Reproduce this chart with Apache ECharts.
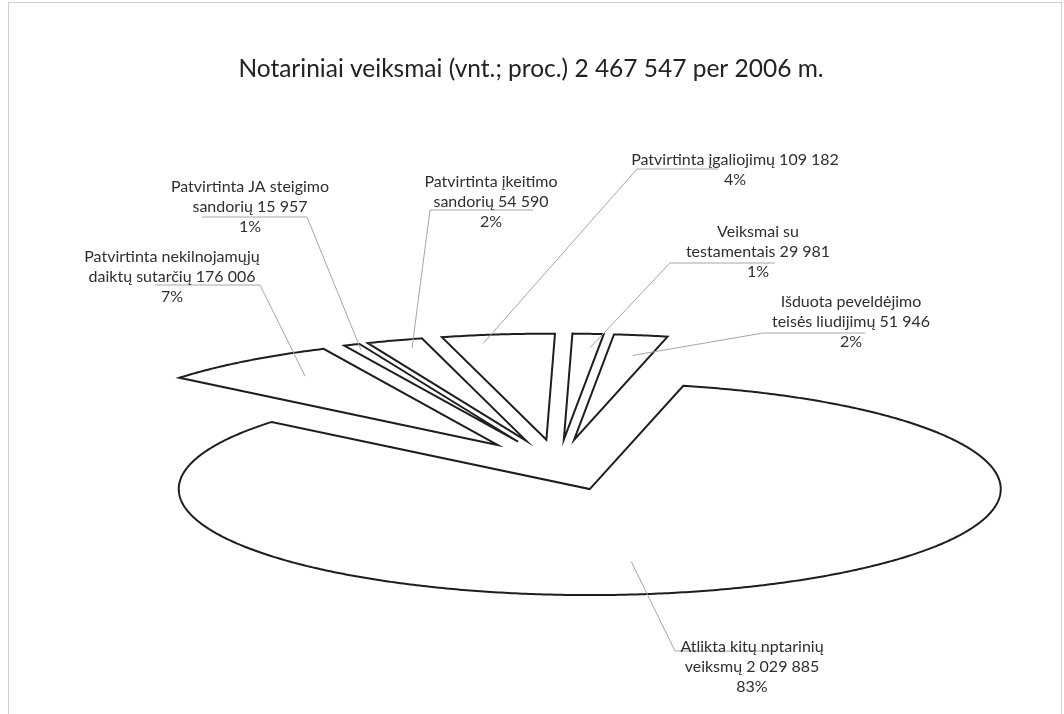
<!DOCTYPE html>
<html>
<head>
<meta charset="utf-8">
<script src="https://cdn.jsdelivr.net/npm/echarts@6/dist/echarts.min.js"></script>
<style>
  html, body { margin: 0; padding: 0; background: #ffffff; }
  #chart { width: 1064px; height: 714px; }
</style>
</head>
<body>
<div id="chart"></div>
<script>
// Notarial acts in 2006: counts per kind of act
const titleText = 'Notariniai veiksmai (vnt.; proc.) 2 467 547 per 2006 m.';
const categories = [
  'Patvirtinta nekilnojamųjų\ndaiktų sutarčių',
  'Patvirtinta JA steigimo\nsandorių',
  'Patvirtinta įkeitimo\nsandorių',
  'Patvirtinta įgaliojimų',
  'Veiksmai su\ntestamentais',
  'Išduota peveldėjimo\nteisės liudijimų',
  'Atlikta kitų nptarinių\nveiksmų'
];
const counts = [176006, 15957, 54590, 109182, 29981, 51946, 2029885];
const percentLabels = ['7%', '1%', '2%', '4%', '1%', '2%', '83%'];

// Tilted (elliptical) exploded pie geometry
const CX = 558, CY = 465;        // common centre before explosion
const RX = 411, RY = 106;        // ellipse radii of the tilted disc
const EXPLODE = 0.24;            // explosion distance, as a fraction of the radius
const START_DEG = -50.7;         // angle of the first slice edge, clockwise from 12 o'clock

// Label boxes: centre x, first line centre y, leader shoulder [near x, far x, y],
// and where the leader touches its slice (t = share of the slice's sweep, r = share of radius)
const labelLayout = [
  { x: 172, y: 257, shoulder: [260, 155, 285], t: 0.58, r: 0.80 },
  { x: 250, y: 187, shoulder: [307, 202, 217], t: 0.55, r: 0.95 },
  { x: 491, y: 182, shoulder: [430, 533, 210], t: 0.64, r: 0.92 },
  { x: 735, y: 160, shoulder: [637, 718, 169], t: 0.32, r: 0.92 },
  { x: 758, y: 232, shoulder: [670, 775, 263], t: 0.69, r: 0.87 },
  { x: 851, y: 302, shoulder: [763, 865, 333], t: 0.61, r: 0.81 },
  { x: 752, y: 647, shoulder: [675, 775, 651], t: 0.535, r: 0.69 }
];

const LINE_H = 20;
const FONT = 'Lato, "Open Sans", sans-serif';

function groupDigits(n) {
  return String(n).replace(/\B(?=(\d{3})+(?!\d))/g, ' ');
}

const total = counts.reduce((a, b) => a + b, 0);
const sliceStart = [];
let acc = 0;
counts.forEach((v) => { sliceStart.push(acc); acc += v; });

function toRad(d) { return d * Math.PI / 180; }
function ellipsePoint(ox, oy, deg, r) {
  const a = toRad(deg);
  return [ox + r * RX * Math.sin(a), oy - r * RY * Math.cos(a)];
}

function renderSlice(params, api) {
  const i = params.dataIndex;
  const value = api.value(0);
  const a0 = START_DEG + sliceStart[i] / total * 360;
  const sweep = value / total * 360;
  const a1 = a0 + sweep;
  const mid = (a0 + a1) / 2;
  const origin = ellipsePoint(CX, CY, mid, EXPLODE);
  const ox = origin[0], oy = origin[1];

  const pts = [[ox, oy]];
  const steps = Math.max(2, Math.ceil(sweep / 0.5));
  for (let k = 0; k <= steps; k++) {
    pts.push(ellipsePoint(ox, oy, a0 + sweep * k / steps, 1));
  }

  const lay = labelLayout[i];
  const anchor = ellipsePoint(ox, oy, a0 + sweep * lay.t, lay.r);
  const text = categories[i] + ' ' + groupDigits(value) + '\n' + percentLabels[i];

  return {
    type: 'group',
    children: [
      {
        type: 'polygon',
        shape: { points: pts },
        style: { fill: '#ffffff', stroke: '#1e1e1e', lineWidth: 2, lineJoin: 'miter' },
        z2: 1
      },
      {
        type: 'polyline',
        shape: { points: [anchor, [lay.shoulder[0], lay.shoulder[2]], [lay.shoulder[1], lay.shoulder[2]]] },
        style: { stroke: '#a6a6a6', lineWidth: 1, fill: null },
        z2: 5
      },
      {
        type: 'text',
        x: lay.x,
        y: lay.y - LINE_H / 2,
        style: {
          text: text,
          fill: '#2f2f2f',
          font: '16px ' + FONT,
          lineHeight: LINE_H,
          align: 'center',
          verticalAlign: 'top'
        },
        z2: 6
      }
    ]
  };
}

const chart = echarts.init(document.getElementById('chart'), null, { renderer: 'canvas' });
chart.setOption({
  animation: false,
  backgroundColor: '#ffffff',
  title: {
    text: titleText,
    left: 526,
    top: 52,
    textAlign: 'center',
    textStyle: { fontFamily: FONT, fontSize: 24.5, fontWeight: 'normal', color: '#222222' }
  },
  graphic: [{
    type: 'rect',
    shape: { x: 8.5, y: 2.5, width: 1053, height: 730 },
    style: { fill: null, stroke: '#cfcfcf', lineWidth: 1 },
    silent: true
  }],
  series: [{
    type: 'custom',
    coordinateSystem: 'none',
    renderItem: renderSlice,
    data: counts.map((v, i) => ({ name: categories[i], value: v }))
  }]
});
</script>
</body>
</html>
